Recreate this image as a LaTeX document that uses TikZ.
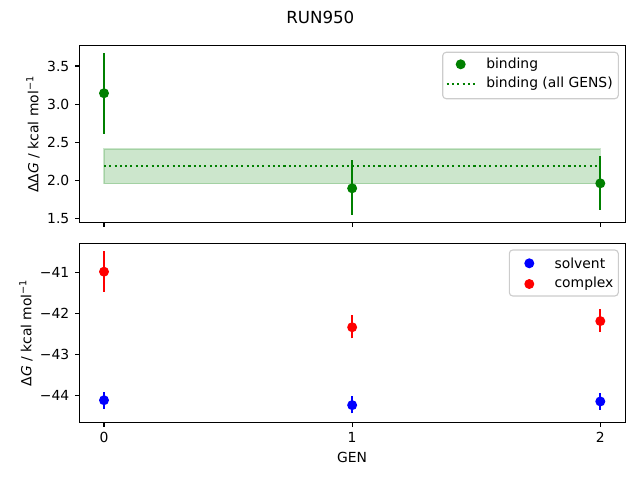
\documentclass[tikz,border=0pt]{standalone}
\usepackage{fontspec}
\setmainfont{DejaVu Sans}
\usetikzlibrary{positioning}
\definecolor{mplgreen}{RGB}{0,128,0}
\definecolor{mplblue}{RGB}{0,0,255}
\definecolor{mplred}{RGB}{255,0,0}
\definecolor{legendedge}{RGB}{204,204,204}
\tikzstyle{frame} = [draw=black, line width=0.8pt]
\tikzstyle{tickmark} = [draw=black, line width=0.8pt]
\tikzstyle{ticklabel} = [font=\fontsize{10}{12}\selectfont, inner sep=0pt]
\tikzstyle{axislabel} = [font=\fontsize{10}{12}\selectfont, inner sep=0pt]
\tikzstyle{errbar} = [line width=1.5pt]
\tikzstyle{dot} = [circle, inner sep=0pt, minimum size=7.2pt]
\tikzstyle{legendbox} = [draw=legendedge, fill=white, fill opacity=0.8, rounded corners=2.5pt, line width=0.8pt]
\tikzstyle{legendtext} = [font=\fontsize{10}{12}\selectfont, anchor=west, inner sep=0pt]
\tikzstyle{dotline} = [draw=mplgreen, line width=1.5pt, dash pattern=on 1.5pt off 2.3pt]

\begin{document}
\begin{tikzpicture}[x=0.72pt, y=-0.72pt]
\useasboundingbox (0,0) rectangle (640,480);

\node (title) [font=\fontsize{12}{14}\selectfont, inner sep=0pt] at (320.3,17.2) {RUN950};

% upper axes: binding
\draw[frame] (79.5,45.5) rectangle (625.5,222.5);
\begin{scope}[shift={(104,333.2)}, x=178.67pt, y=54.97pt]
  \fill[mplgreen, fill opacity=0.2, draw=mplgreen, draw opacity=0.2, line width=1pt] (0,1.958) rectangle (2,2.413);
  \draw[dotline] (0,2.194) -- (2,2.194);
  \foreach \g/\lo/\mid/\hi in {0/2.614/3.143/3.666, 1/1.552/1.898/2.268, 2/1.618/1.963/2.325} {
    \draw[errbar, mplgreen] (\g,\lo) -- (\g,\hi);
    \node[dot, fill=mplgreen] at (\g,\mid) {};
  }
  \foreach \v in {1.5,2.0,2.5,3.0,3.5} {
    \draw[tickmark] ([xshift=-17.6pt]0,\v) -- ++(-3.5pt,0);
    \node[ticklabel, anchor=east] at ([xshift=-24.8pt]0,\v) {\v};
  }
\end{scope}
\foreach \x in {104,352.15,600.3}
  \draw[tickmark] (\x,222.5) -- ++(0,4.86);
\node (ylabtop) [axislabel, rotate=90] at (33,134.2) {ΔΔ\textit{G} / kcal mol\textsuperscript{−1}};

% legend of upper axes
\draw[legendbox] (442.7,52.3) rectangle (618.3,98.7);
\node (bindmark) [dot, fill=mplgreen] at (460.7,64.3) {};
\node (bindtext) [legendtext] at (486,64.3) {binding};
\draw[dotline] (446.7,83.7) -- (474.7,83.7);
\node (alltext) [legendtext] at (486,83.7) {binding (all GENS)};

% lower axes: solvent and complex
\draw[frame] (79.5,243.5) rectangle (625.5,422.5);
\begin{scope}[shift={(104,-1408.7)}, x=178.67pt, y=29.52pt]
  \foreach \g/\lo/\mid/\hi in {0/-44.33/-44.12/-43.91, 1/-44.44/-44.24/-44.02, 2/-44.35/-44.15/-43.94} {
    \draw[errbar, mplblue] (\g,\lo) -- (\g,\hi);
    \node[dot, fill=mplblue] at (\g,\mid) {};
  }
  \foreach \g/\lo/\mid/\hi in {0/-41.47/-40.985/-40.48, 1/-42.61/-42.34/-42.04, 2/-42.46/-42.19/-41.90} {
    \draw[errbar, mplred] (\g,\lo) -- (\g,\hi);
    \node[dot, fill=mplred] at (\g,\mid) {};
  }
  \foreach \v in {41,42,43,44} {
    \draw[tickmark] ([xshift=-17.6pt]0,-\v) -- ++(-3.5pt,0);
    \node[ticklabel, anchor=east] at ([xshift=-24.8pt]0,-\v) {−\v};
  }
\end{scope}
\foreach \g/\x in {0/104,1/352.15,2/600.3} {
  \draw[tickmark] (\x,422.5) -- ++(0,4.86);
  \node (xtl\g) [ticklabel, anchor=north] at (\x,432.2) {\g};
}
\node (xlabel) [axislabel, below=6.5pt of xtl1] {GEN};
\node (ylabbot) [axislabel, rotate=90] at (26,332.8) {Δ\textit{G} / kcal mol\textsuperscript{−1}};

% legend of lower axes
\draw[legendbox] (509.3,250) rectangle (618.3,296);
\node (solvmark) [dot, fill=mplblue] at (529.3,263.3) {};
\node (solvtext) [legendtext] at (554.3,263.3) {solvent};
\node (compmark) [dot, fill=mplred] at (529.3,284) {};
\node (comptext) [legendtext] at (554.3,284) {complex};

\end{tikzpicture}
\end{document}
